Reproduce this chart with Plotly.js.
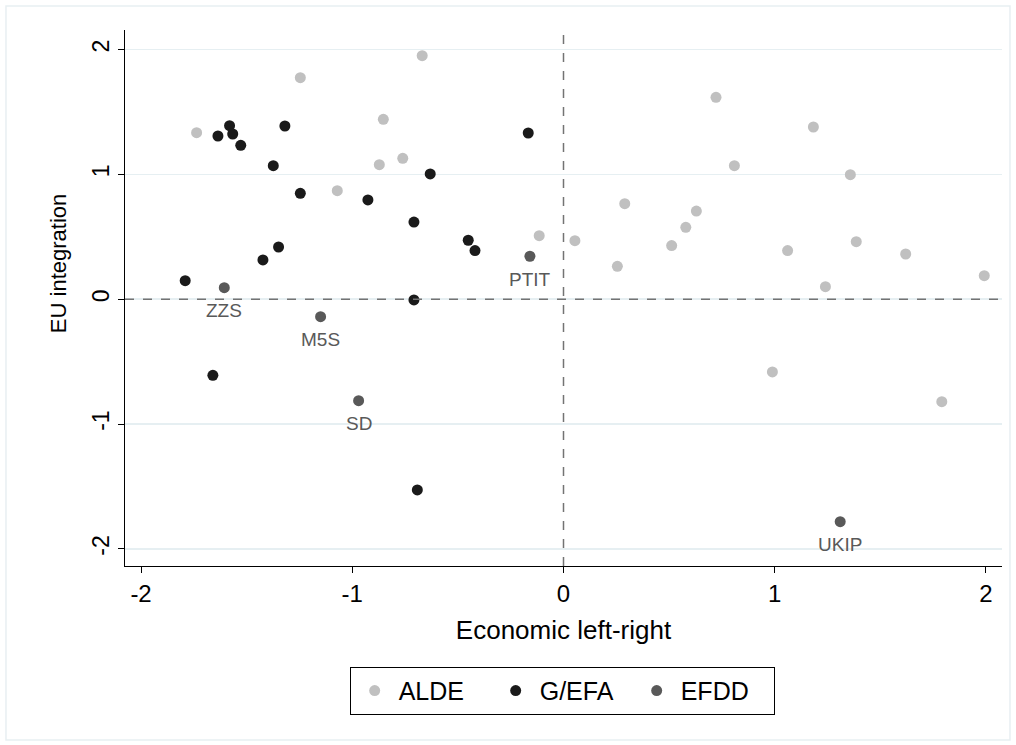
<!DOCTYPE html>
<html>
<head>
<meta charset="utf-8">
<script src="https://cdn.plot.ly/plotly-3.0.1.min.js"></script>
<style>html,body{margin:0;padding:0;background:#fff;}#chart{width:1016px;height:745px;}</style>
</head>
<body>
<div id="chart"></div>
<script>
// ALDE
const aldeX = [-1.737, -1.246, -0.669, -0.853, -0.761, -0.872, -1.071, -0.115, 0.054,
  0.722, 1.183, 0.809, 1.358, 0.290, 0.629, 0.579, 0.512, 1.386, 1.061, 1.620, 0.255, 1.240, 1.992, 0.989, 1.791];
const aldeY = [1.334, 1.774, 1.950, 1.441, 1.128, 1.077, 0.869, 0.509, 0.469,
  1.617, 1.379, 1.069, 0.997, 0.765, 0.706, 0.576, 0.429, 0.461, 0.389, 0.362, 0.263, 0.100, 0.188, -0.583, -0.821];
// G/EFA
const gefaX = [-1.581, -1.566, -1.636, -1.528, -1.319, -1.374, -1.246, -0.926, -0.631, -0.167,
  -0.708, -0.451, -0.419, -1.349, -1.423, -1.791, -0.708, -1.660, -0.692];
const gefaY = [1.390, 1.323, 1.307, 1.232, 1.387, 1.069, 0.848, 0.795, 1.003, 1.331,
  0.618, 0.472, 0.389, 0.418, 0.314, 0.148, -0.006, -0.610, -1.528];
// EFDD
const efddX = [-1.606, -0.159, -1.150, -0.970, 1.310];
const efddY = [0.092, 0.344, -0.140, -0.813, -1.782];
const efddLabels = ["ZZS", "PTIT", "M5S", "SD", "UKIP"];

const tickVals = [-2, -1, 0, 1, 2];
const tickText = ["-2", "-1", "0", "1", "2"];

const FONT = "Liberation Sans, Arial, sans-serif";

const traces = [
  {x: aldeX, y: aldeY, name: "ALDE", type: "scatter", mode: "markers",
   marker: {color: "#c0c0c0", size: 11}},
  {x: gefaX, y: gefaY, name: "G/EFA", type: "scatter", mode: "markers",
   marker: {color: "#1a1a1a", size: 11}},
  {x: efddX, y: efddY, name: "EFDD", type: "scatter", mode: "markers",
   marker: {color: "#595959", size: 11}}
];

const labelAnns = efddLabels.map((t, i) => ({
  x: efddX[i], y: efddY[i], xref: "x", yref: "y", text: t, showarrow: false,
  yshift: -23, xanchor: "center", yanchor: "middle",
  font: {family: FONT, size: 19, color: "#595959"}
}));

const layout = {
  width: 1016, height: 745,
  margin: {l: 125, r: 14, t: 30, b: 179},
  paper_bgcolor: "#ffffff", plot_bgcolor: "#ffffff",
  font: {family: FONT, color: "#000"},
  showlegend: true,
  legend: {orientation: "h", x: 0.4985, xanchor: "center", y: -0.188, yanchor: "top",
    bordercolor: "#000", borderwidth: 1, font: {family: FONT, size: 25, color: "#000"},
    itemwidth: 38, entrywidth: 88, tracegroupgap: 0},
  xaxis: {range: [-2.076, 2.076], tickvals: tickVals, ticktext: tickText,
    showgrid: false, zeroline: false, showline: true, linecolor: "#000", linewidth: 1,
    ticks: "outside", ticklen: 6, tickcolor: "#000",
    tickfont: {family: FONT, size: 24},
    title: {text: "Economic left-right", font: {family: FONT, size: 26}, standoff: 15}},
  yaxis: {range: [-2.137, 2.156], tickvals: tickVals, ticktext: tickText,
    showgrid: true, gridcolor: "#e6eff2", gridwidth: 1.5,
    zeroline: false, showline: true, linecolor: "#000", linewidth: 1,
    ticks: "outside", ticklen: 6, tickcolor: "#000", tickangle: -90,
    tickfont: {family: FONT, size: 23}},
  annotations: [
    {text: "EU integration", xref: "paper", yref: "paper", x: -0.0764, y: 0.565,
     xanchor: "center", yanchor: "middle", textangle: -90, showarrow: false,
     font: {family: FONT, size: 22, color: "#000"}}
  ].concat(labelAnns),
  shapes: [
    {type: "line", xref: "x", yref: "paper", x0: 0, x1: 0, y0: 0, y1: 1,
     line: {color: "#737373", width: 1.5, dash: "dash"}},
    {type: "line", xref: "paper", yref: "y", x0: 0, x1: 1, y0: 0, y1: 0,
     line: {color: "#737373", width: 1.5, dash: "dash"}},
    {type: "rect", xref: "paper", yref: "paper", x0: -0.1357, x1: 1.0091, y0: -0.3246, y1: 1.0448,
     line: {color: "#e8eff2", width: 1.5}, layer: "below"}
  ]
};

Plotly.newPlot("chart", traces, layout, {displayModeBar: false, staticPlot: true});
</script>
</body>
</html>
